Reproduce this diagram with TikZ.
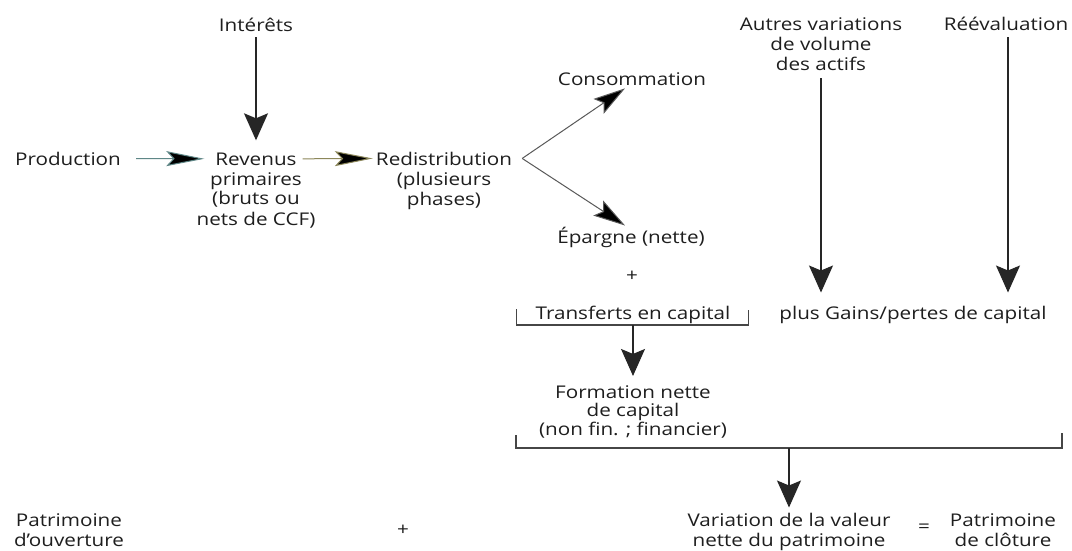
\documentclass[tikz,border=0pt]{standalone}
\usepackage{fontspec}
\setmainfont{Open Sans}[FakeStretch=1.18]
\usetikzlibrary{arrows.meta,calc}
\definecolor{txt}{RGB}{30,30,30}
\definecolor{tealline}{RGB}{95,135,135}
\definecolor{oliveline}{RGB}{140,135,90}
\definecolor{brk}{RGB}{70,70,70}
\tikzset{
  t/.style={inner sep=0pt,anchor=base,text=txt,font=\fontsize{17.5}{20}\selectfont},
  m/.style={t,align=center},
  varrow/.style={draw=black!85,line width=1.1pt,-{Stealth[length=27pt,width=24pt,inset=5pt]}},
  harrow/.style={line width=1pt,-{Stealth[length=38pt,width=15pt,inset=7pt,fill=black]}},
  darrow/.style={draw=black!65,line width=1pt,-{Stealth[length=32pt,width=18pt,inset=6pt,fill=black]}},
  bracket/.style={draw=brk,line width=1.3pt}
}
\begin{document}
\begin{tikzpicture}[x=1pt,y=-1pt]
\fill[white] (0,0) rectangle (1072,551);
\useasboundingbox (0,0) rectangle (1072,551);
% nodes (multi-line nodes: base = baseline of last line)
\node[t] (int) at (256,32) {Intérêts};
\node[t] (prod) at (68,165) {Production};
\node[t] (rev) at (256,165) {Revenus};
\node[m] (rev2) at (256,225) {primaires\\(bruts ou\\nets de CCF)};
\node[t] (red) at (444,165) {Redistribution};
\node[m] (red2) at (444,205) {(plusieurs\\phases)};
\node[t] (cons) at (632,86) {Consommation};
\node[t] (ep) at (631,243) {Épargne (nette)};
\node[t] (plus1) at (632,281) {+};
\node[m] (aut) at (821,71) {Autres variations\\de volume\\des actifs};
\node[t] (reev) at (1006,31) {Réévaluation};
\node[t] (trans) at (633,319) {Transferts en capital};
\node[t] (gains) at (913,319) {plus Gains/pertes de capital};
\node[m,font=\fontsize{17.5}{18.5}\selectfont] (form) at (633,435) {Formation nette\\de capital\\(non fin. ; financier)};
\node[m] (pat1) at (69,546) {Patrimoine\\d’ouverture};
\node[t] (plus2) at (403,535) {+};
\node[m] (var) at (789,546) {Variation de la valeur\\nette du patrimoine};
\node[t] (eq) at (924,532) {=};
\node[m] (pat2) at (1003,546) {Patrimoine\\de clôture};
% connectors
\draw[varrow,shorten <=5pt,shorten >=12pt] (int.south) -- (rev.north);
\draw[harrow,draw=tealline,shorten <=15pt,shorten >=11pt] (prod.east) -- (rev.west);
\draw[harrow,draw=oliveline,shorten <=6pt,shorten >=3pt] (rev.east) -- (red.west);
\coordinate (fork) at ($(red.east)+(10,0)$);
\draw[darrow] (fork) -- ($(cons.south)+(-7,2)$);
\draw[darrow] (fork) -- ($(ep.north)+(-6,-1)$);
\draw[varrow,shorten <=7pt,shorten >=13pt] (aut.south) -- (aut.south |- gains.north);
\coordinate (reevb) at ($(reev.south)+(2,0)$);
\draw[varrow,shorten <=6pt,shorten >=13pt] (reevb) -- (reevb |- gains.north);
% transferts bracket
\draw[bracket] ($(trans.base west)+(-19,-10)$) -- ($(trans.base west)+(-19,6)$)
  -- ($(trans.base east)+(18,6)$) -- ($(trans.base east)+(18,-9)$);
\coordinate (transb) at ($(trans.base)+(0,6)$);
\draw[varrow,shorten >=9pt] (transb) -- (form.north);
% big bracket
\coordinate (bl) at (516,448);
\coordinate (br) at (1062,448);
\draw[bracket] ($(bl)+(0,-13)$) -- (bl) -- (br) -- ($(br)+(0,-15)$);
\draw[varrow,shorten >=5pt] (bl -| var.north) -- (var.north);
\end{tikzpicture}
\end{document}
